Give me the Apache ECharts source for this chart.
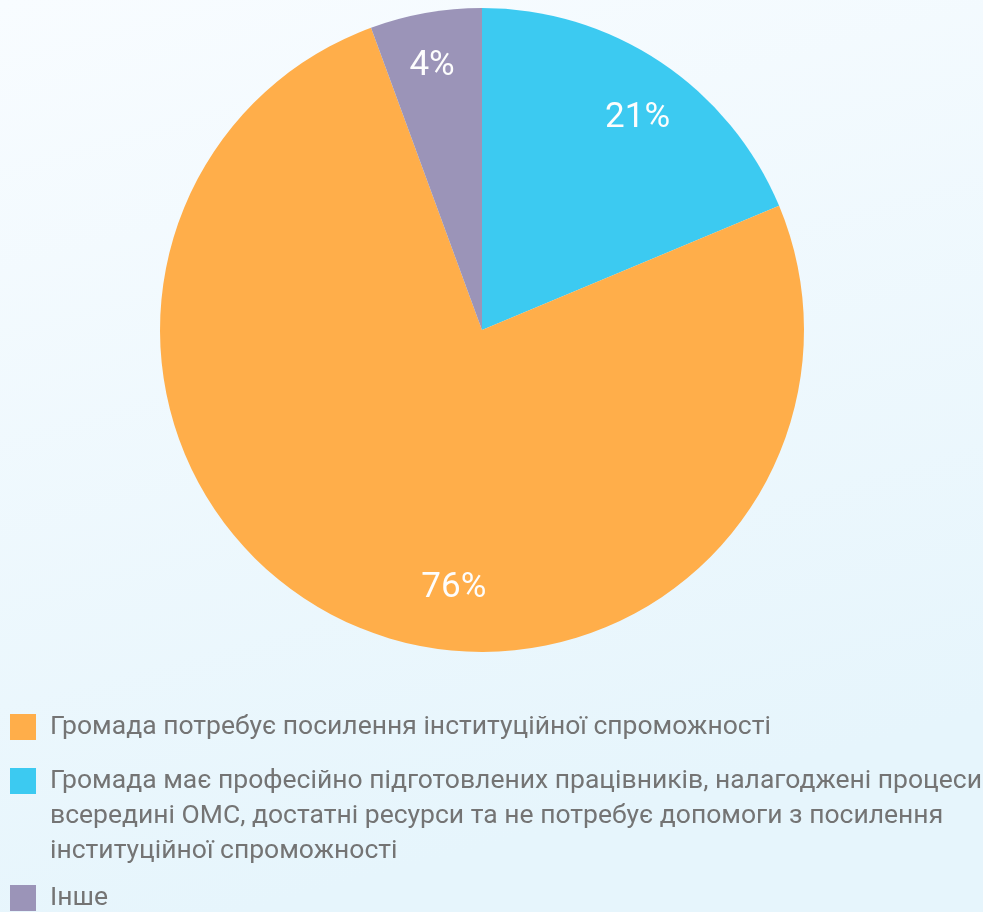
<!DOCTYPE html>
<html>
<head>
<meta charset="utf-8">
<style>
  html, body { margin: 0; padding: 0; }
  #chart { width: 983px; height: 912px; }
</style>
<script src="https://cdn.jsdelivr.net/npm/echarts@6/dist/echarts.min.js"></script>
</head>
<body>
<div id="chart"></div>
<script>
// Categories in drawing order (clockwise from 12 o'clock)
const categories = [
  'Громада має професійно підготовлених працівників, налагоджені процеси всередині ОМС, достатні ресурси та не потребує допомоги з посилення інституційної спроможності',
  'Громада потребує посилення інституційної спроможності',
  'Інше'
];
// The long legend entry as it wraps in the picture
const longLegendLines = [
  'Громада має професійно підготовлених працівників, налагоджені процеси',
  'всередині ОМС, достатні ресурси та не потребує допомоги з посилення',
  'інституційної спроможності'
];
// Slice sizes as drawn in the picture (share of the circle, %)
const values = [18.7, 75.7, 5.6];
// Percent labels printed on the slices
const sliceLabels = ['21%', '76%', '4%'];
const colors = ['#3ccaf1', '#ffae4a', '#9b94b8'];
// Legend order (as shown under the chart)
const legendOrder = [categories[1], categories[0], categories[2]];

const chart = echarts.init(document.getElementById('chart'), null, { renderer: 'canvas' });

const pieData = categories.map((c, i) => ({ name: c, value: values[i], itemStyle: { color: colors[i] } }));

function legendBox(top, name) {
  return {
    orient: 'vertical',
    left: 10,
    top: top,
    padding: 0,
    itemWidth: 26,
    itemHeight: 26,
    icon: 'rect',
    selectedMode: false,
    data: [name],
    // two empty lines above keep the first text line level with the icon
    formatter: n => (n === categories[0] ? '\n\n' + longLegendLines.join('\n') : n),
    textStyle: {
      fontFamily: 'Roboto',
      fontSize: 26.5,
      lineHeight: 35,
      color: '#747474',
      padding: [3, 0, 0, 9]
    }
  };
}

const option = {
  backgroundColor: {
    type: 'linear', x: 0, y: 0, x2: 0.25, y2: 1,
    colorStops: [{ offset: 0, color: '#f8fcff' }, { offset: 1, color: '#e6f5fc' }]
  },
  animation: false,
  legend: [
    legendBox(708, legendOrder[0]),
    legendBox(692, legendOrder[1]),
    legendBox(879, legendOrder[2])
  ],
  series: [
    {
      type: 'pie',
      center: [482, 330],
      radius: [0, 322],
      startAngle: 90,
      clockwise: true,
      silent: true,
      label: { show: false },
      labelLine: { show: false },
      data: pieData
    },
    {
      type: 'pie',
      center: [482, 330],
      radius: [208, 322],
      startAngle: 90,
      clockwise: true,
      silent: true,
      itemStyle: { color: 'rgba(0,0,0,0)' },
      label: {
        show: true,
        position: 'inside',
        formatter: p => sliceLabels[p.dataIndex],
        color: '#fdfdfd',
        fontFamily: 'Roboto',
        fontWeight: 'normal',
        fontSize: 35
      },
      labelLayout: p => (p.dataIndex === 1 ? { dx: 79, dy: 13 } : p.dataIndex === 0 ? { dx: 7, dy: 11 } : { dx: -3, dy: 0 }),
      labelLine: { show: false },
      data: categories.map((c, i) => ({ name: c, value: values[i], itemStyle: { color: 'rgba(0,0,0,0)' } }))
    }
  ]
};

chart.setOption(option);
</script>
</body>
</html>
